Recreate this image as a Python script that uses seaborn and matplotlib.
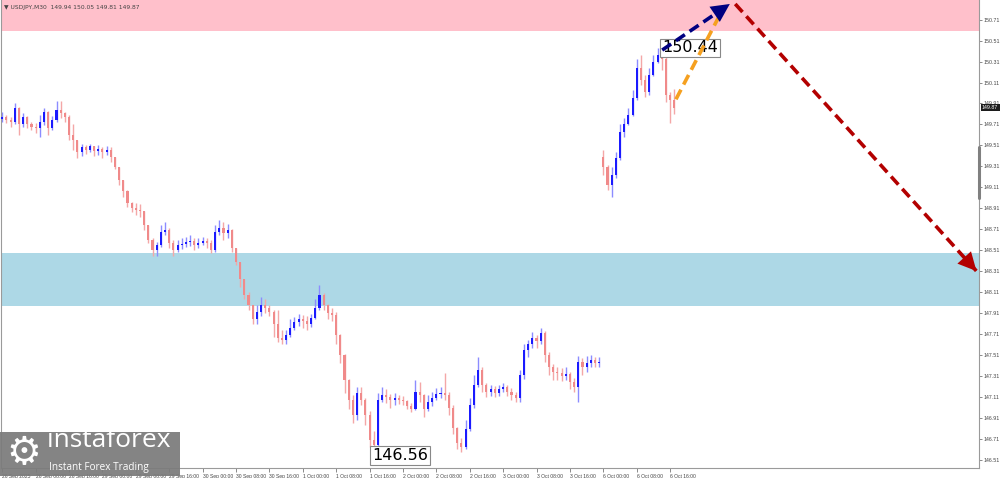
import matplotlib
matplotlib.use("Agg")
import numpy as np
import pandas as pd
import matplotlib.pyplot as plt
import matplotlib.patches as mpatches
import seaborn as sns

# USDJPY, hourly candles from 26 Sep 00:00 to 6 Oct 16:30 (weekend skipped)
OPEN = [149.76, 149.78, 149.75, 149.73, 149.87, 149.71, 149.78, 149.71,
        149.69, 149.68, 149.73, 149.83, 149.68, 149.75, 149.85, 149.82,
        149.78, 149.61, 149.56, 149.45, 149.49, 149.47, 149.50, 149.46,
        149.48, 149.45, 149.47, 149.40, 149.30, 149.18, 149.07, 148.96,
        148.91, 148.89, 148.88, 148.75, 148.61, 148.51, 148.56, 148.68,
        148.70, 148.58, 148.51, 148.56, 148.57, 148.59, 148.60, 148.56,
        148.58, 148.60, 148.58, 148.51, 148.68, 148.72, 148.67, 148.70,
        148.53, 148.40, 148.23, 148.08, 147.99, 147.85, 147.92, 147.99,
        147.96, 147.92, 147.80, 147.67, 147.65, 147.70, 147.77, 147.82,
        147.85, 147.83, 147.80, 147.86, 147.96, 148.08, 147.99, 147.91,
        147.89, 147.70, 147.51, 147.27, 147.08, 146.94, 147.15, 147.08,
        146.94, 146.70, 146.65, 147.08, 147.13, 147.11, 147.08, 147.10,
        147.08, 147.07, 147.02, 146.99, 147.16, 147.13, 146.99, 147.06,
        147.10, 147.14, 147.15, 147.13, 147.00, 146.81, 146.67, 146.63,
        146.80, 147.03, 147.22, 147.37, 147.22, 147.16, 147.18, 147.15,
        147.18, 147.20, 147.16, 147.13, 147.10, 147.32, 147.56, 147.61,
        147.67, 147.64, 147.72, 147.51, 147.39, 147.35, 147.34, 147.31,
        147.33, 147.25, 147.20, 147.44, 147.39, 147.43, 147.46, 147.43,
        149.40, 149.30, 149.13, 149.23, 149.39, 149.64, 149.71, 149.80,
        149.96, 150.25, 150.13, 150.02, 150.18, 150.31, 150.37, 150.33,
        149.99, 149.94]
HIGH = [149.83, 149.80, 149.78, 149.91, 149.88, 149.82, 149.79, 149.73,
        149.72, 149.80, 149.87, 149.84, 149.79, 149.93, 149.93, 149.83,
        149.80, 149.71, 149.56, 149.52, 149.51, 149.52, 149.50, 149.51,
        149.49, 149.50, 149.49, 149.40, 149.30, 149.18, 149.08, 148.97,
        148.96, 148.95, 148.88, 148.75, 148.63, 148.59, 148.75, 148.78,
        148.72, 148.61, 148.61, 148.63, 148.64, 148.65, 148.63, 148.63,
        148.64, 148.63, 148.61, 148.75, 148.80, 148.78, 148.76, 148.71,
        148.53, 148.40, 148.23, 148.11, 147.99, 147.99, 148.06, 148.04,
        147.99, 147.94, 147.94, 147.75, 147.75, 147.85, 147.87, 147.90,
        147.89, 147.88, 147.90, 148.04, 148.18, 148.10, 148.00, 147.96,
        147.92, 147.71, 147.52, 147.28, 147.13, 147.20, 147.20, 147.10,
        146.97, 146.78, 147.15, 147.20, 147.18, 147.14, 147.15, 147.13,
        147.12, 147.08, 147.05, 147.27, 147.25, 147.14, 147.13, 147.16,
        147.19, 147.20, 147.34, 147.16, 147.03, 146.82, 146.72, 146.89,
        147.10, 147.32, 147.49, 147.39, 147.24, 147.22, 147.21, 147.22,
        147.24, 147.22, 147.19, 147.16, 147.37, 147.61, 147.65, 147.73,
        147.70, 147.77, 147.74, 147.54, 147.42, 147.39, 147.38, 147.39,
        147.35, 147.29, 147.50, 147.48, 147.50, 147.51, 147.49, 147.49,
        149.47, 149.32, 149.30, 149.45, 149.71, 149.77, 149.87, 150.04,
        150.33, 150.37, 150.18, 150.25, 150.37, 150.44, 150.42, 150.37,
        150.02, 150.05]
LOW = [149.73, 149.72, 149.69, 149.71, 149.61, 149.69, 149.68, 149.66,
       149.63, 149.59, 149.70, 149.61, 149.66, 149.73, 149.77, 149.73,
       149.56, 149.47, 149.39, 149.41, 149.43, 149.45, 149.41, 149.42,
       149.39, 149.42, 149.35, 149.28, 149.13, 149.02, 148.92, 148.87,
       148.85, 148.83, 148.70, 148.58, 148.45, 148.45, 148.54, 148.65,
       148.53, 148.45, 148.49, 148.52, 148.54, 148.55, 148.51, 148.53,
       148.56, 148.53, 148.48, 148.49, 148.65, 148.61, 148.63, 148.49,
       148.37, 148.16, 148.04, 147.94, 147.80, 147.80, 147.88, 147.91,
       147.88, 147.68, 147.63, 147.61, 147.61, 147.68, 147.75, 147.79,
       147.77, 147.75, 147.78, 147.85, 147.94, 147.94, 147.85, 147.83,
       147.61, 147.43, 147.15, 146.99, 146.86, 146.89, 147.03, 146.84,
       146.63, 146.56, 146.61, 147.06, 147.05, 147.00, 147.03, 147.04,
       147.03, 146.99, 146.96, 146.98, 147.06, 146.92, 146.97, 147.02,
       147.08, 147.10, 147.08, 146.94, 146.75, 146.61, 146.58, 146.61,
       146.78, 147.00, 147.20, 147.16, 147.11, 147.12, 147.11, 147.12,
       147.16, 147.12, 147.08, 147.06, 147.06, 147.28, 147.49, 147.58,
       147.58, 147.61, 147.44, 147.32, 147.27, 147.27, 147.26, 147.27,
       147.18, 147.16, 147.06, 147.32, 147.35, 147.39, 147.39, 147.39,
       149.23, 149.08, 149.02, 149.20, 149.37, 149.59, 149.70, 149.79,
       149.94, 150.09, 149.97, 149.99, 150.17, 150.30, 150.23, 149.92,
       149.72, 149.81]
CLOSE = [149.78, 149.75, 149.73, 149.87, 149.71, 149.78, 149.71, 149.69,
         149.68, 149.73, 149.83, 149.68, 149.75, 149.85, 149.82, 149.78,
         149.61, 149.56, 149.45, 149.49, 149.47, 149.50, 149.46, 149.48,
         149.45, 149.47, 149.40, 149.30, 149.18, 149.07, 148.96, 148.91,
         148.89, 148.88, 148.75, 148.61, 148.51, 148.56, 148.68, 148.70,
         148.58, 148.51, 148.56, 148.57, 148.59, 148.60, 148.56, 148.58,
         148.60, 148.58, 148.51, 148.68, 148.72, 148.67, 148.70, 148.53,
         148.40, 148.23, 148.08, 147.99, 147.85, 147.92, 147.99, 147.96,
         147.92, 147.80, 147.67, 147.65, 147.70, 147.77, 147.82, 147.85,
         147.83, 147.80, 147.86, 147.96, 148.08, 147.99, 147.91, 147.89,
         147.70, 147.51, 147.27, 147.08, 146.94, 147.15, 147.08, 146.94,
         146.70, 146.65, 147.08, 147.13, 147.11, 147.08, 147.10, 147.08,
         147.07, 147.02, 146.99, 147.16, 147.13, 146.99, 147.06, 147.10,
         147.14, 147.15, 147.13, 147.00, 146.81, 146.67, 146.63, 146.80,
         147.03, 147.22, 147.37, 147.22, 147.16, 147.18, 147.15, 147.18,
         147.20, 147.16, 147.13, 147.10, 147.32, 147.56, 147.61, 147.67,
         147.64, 147.72, 147.51, 147.39, 147.35, 147.34, 147.31, 147.33,
         147.25, 147.20, 147.44, 147.39, 147.43, 147.46, 147.43, 147.44,
         149.30, 149.13, 149.23, 149.39, 149.64, 149.71, 149.80, 149.96,
         150.25, 150.13, 150.02, 150.18, 150.31, 150.37, 150.33, 149.99,
         149.94, 149.87]

TIME_LABELS = ["26 Sep 2025", "26 Sep 08:00", "26 Sep 16:00",
               "29 Sep 00:00", "29 Sep 08:00", "29 Sep 16:00",
               "30 Sep 00:00", "30 Sep 08:00", "30 Sep 16:00",
               "1 Oct 00:00", "1 Oct 08:00", "1 Oct 16:00",
               "2 Oct 00:00", "2 Oct 08:00", "2 Oct 16:00",
               "3 Oct 00:00", "3 Oct 08:00", "3 Oct 16:00",
               "6 Oct 00:00", "6 Oct 08:00", "6 Oct 16:00"]
BARS_PER_LABEL = 8
PRICE_TICKS = [146.51, 146.71, 146.91, 147.11, 147.31, 147.51, 147.71,
               147.91, 148.11, 148.31, 148.51, 148.71, 148.91, 149.11,
               149.31, 149.51, 149.71, 149.91, 150.11, 150.31, 150.51,
               150.71]

RESIST_ZONE = (150.60, 151.20)
SUPPORT_ZONE = (147.98, 148.48)
LAST_PRICE = 149.87
HEADER = "USDJPY,M30  149.94 150.05 149.81 149.87"
PEAK = (158.0, 150.44, "150.44")
TROUGH = (88.6, 146.55, "146.56")
# forecast legs: (bar, price) start -> end
WAVE_UP = ((158.1, 150.42), (174.3, 150.86))
WAVE_ALT = ((161.4, 149.95), (171.7, 150.74))
WAVE_DOWN = ((175.6, 150.86), (233.4, 148.31))

BULL = "#1a1aff"
BULL_WICK = "#8c8cff"
BEAR = "#f08a8a"
BEAR_WICK = "#f4a7a7"
SMALL = ["Liberation Sans", "DejaVu Sans"]

sns.set_theme(style="white")
plt.rcParams["font.family"] = ["DejaVu Sans"]

df = pd.DataFrame({"open": OPEN, "high": HIGH, "low": LOW, "close": CLOSE})
df["bar"] = np.arange(len(df))
df["bull"] = df["close"] >= df["open"]
df["high"] = df[["high", "open", "close"]].max(axis=1)
df["low"] = df[["low", "open", "close"]].min(axis=1)

fig = plt.figure(figsize=(10, 4.78), dpi=100)
ax = fig.add_axes([0.001, 10 / 478, 0.978, 468 / 478])
ax.set_facecolor("white")

ax.axhspan(*RESIST_ZONE, color="#ffc0cb", lw=0, zorder=0)
ax.axhspan(*SUPPORT_ZONE, color="#add8e6", lw=0, zorder=0)

ax.vlines(df["bar"], df["low"], df["high"],
          colors=np.where(df["bull"], BULL_WICK, BEAR_WICK), lw=1.0, zorder=2)
body = (df["close"] - df["open"]).abs().clip(lower=0.008)
ax.bar(df["bar"], body, bottom=df[["open", "close"]].min(axis=1),
       width=0.5, color=np.where(df["bull"], BULL, BEAR), lw=0, zorder=3)

# extreme price labels
for bx, py, txt in (PEAK, TROUGH):
    ax.text(bx, py, txt, fontsize=11.5, ha="left", va="center", color="black",
            zorder=6, bbox=dict(boxstyle="square,pad=0.12", fc="white",
                                ec="#888888", lw=0.8))


def wave(leg, color, head=True):
    (x0, y0), (x1, y1) = leg
    ax.plot([x0, x1], [y0, y1], color=color, lw=2.6, ls=(0, (3, 1.6)),
            zorder=7, dash_capstyle="butt")
    if head:
        fx = x0 + (x1 - x0) * 0.9
        fy = y0 + (y1 - y0) * 0.9
        ax.annotate("", xy=(x1, y1), xytext=(fx, fy), zorder=8,
                    arrowprops=dict(arrowstyle="-|>,head_length=1.1,head_width=0.55",
                                    color=color, lw=0, shrinkA=0, shrinkB=0))


wave(WAVE_DOWN, "#b30000")
wave(WAVE_ALT, "#f5a020", head=False)
wave(WAVE_UP, "#000080")

ax.set_xlim(-0.3, 234.0)
ax.set_ylim(146.43, 150.898)

ax.yaxis.tick_right()
ax.set_yticks(PRICE_TICKS)
ax.set_yticklabels([f"{p:.2f}" for p in PRICE_TICKS], family=SMALL)
ax.tick_params(axis="y", which="both", right=True, length=2, width=0.6,
               color="#777777", labelsize=3.8, labelcolor="#444444", pad=1)

ax.set_xticks(np.arange(len(TIME_LABELS)) * BARS_PER_LABEL)
ax.set_xticklabels(TIME_LABELS, ha="left", family=SMALL)
ax.tick_params(axis="x", bottom=True, length=3, width=0.6, color="#777777",
               labelsize=3.6, labelcolor="#444444", pad=1)
ax.set_xlabel("")
ax.set_ylabel("")

for side in ("right", "bottom", "left"):
    ax.spines[side].set_color("#9a9a9a")
    ax.spines[side].set_linewidth(0.8)
ax.spines["top"].set_visible(False)

# chart scale marker on the price axis
ax.plot([1.0, 1.0], [149.01, 149.49], transform=ax.get_yaxis_transform(),
        color="#808080", lw=2.2, clip_on=False, zorder=9)

# last price tag
ax.annotate(f"{LAST_PRICE:.2f}", xy=(1.003, LAST_PRICE),
            xycoords=ax.get_yaxis_transform(), fontsize=3.8, family=SMALL,
            color="white", ha="left", va="center", annotation_clip=False,
            bbox=dict(boxstyle="square,pad=0.25", fc="#1c1c1c", ec="none"))

fig.text(0.004, 0.99, "\u25bc " + HEADER, fontsize=4.3, color="#444444",
         ha="left", va="top")

# watermark
fig.patches.append(mpatches.Rectangle((0, 2 / 478), 0.18, 44 / 478,
                                      transform=fig.transFigure, fc="#7b7b7b",
                                      ec="none", alpha=0.93, zorder=10))
fig.text(0.024, 0.052, "\u2699", fontsize=28, color="white", ha="center",
         va="center", zorder=11)
fig.text(0.047, 0.079, "instaforex", fontsize=19, color="white",
         family=["Open Sans", "DejaVu Sans"], ha="left", va="center", zorder=11)
fig.text(0.049, 0.022, "Instant Forex Trading", fontsize=7.2, color="white",
         family=["Open Sans", "DejaVu Sans"], ha="left", va="center", zorder=11)

fig.savefig("out.png", dpi=100)
